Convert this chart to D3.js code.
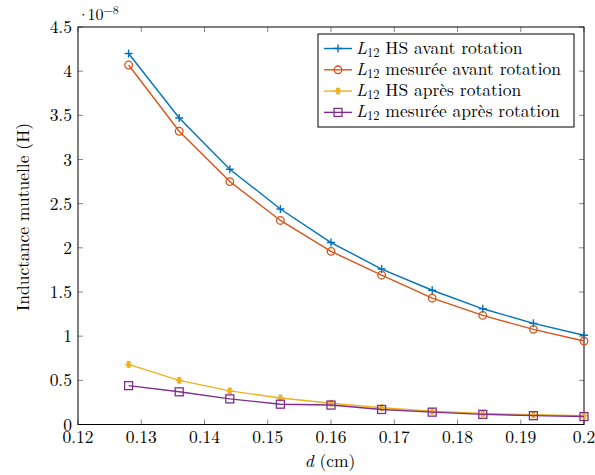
<!DOCTYPE html>
<html><head><meta charset="utf-8">
<script src="https://cdn.jsdelivr.net/npm/d3@7"></script>
<style>body{margin:0;background:#fff}svg{display:block}text{font-family:"Latin Modern Roman","CMU Serif","DejaVu Serif",serif;}</style>
</head><body>
<script>
const dValues = [0.128,0.136,0.144,0.152,0.160,0.168,0.176,0.184,0.192,0.200];
const hsAvant = [4.20,3.47,2.89,2.44,2.06,1.76,1.52,1.31,1.145,1.01];
const mesAvant = [4.07,3.32,2.75,2.31,1.96,1.69,1.43,1.235,1.077,0.945];
const hsApres = [0.68,0.50,0.38,0.30,0.24,0.19,0.15,0.125,0.11,0.10];
const mesApres = [0.44,0.37,0.29,0.23,0.22,0.17,0.14,0.115,0.10,0.09];
const xTicks = [0.12,0.13,0.14,0.15,0.16,0.17,0.18,0.19,0.2];
const yTicks = [0,0.5,1,1.5,2,2.5,3,3.5,4,4.5];
const seriesNames = ["HS avant rotation","mesurée avant rotation","HS après rotation","mesurée après rotation"];
const colors = ["#0072BD","#D95319","#EDB120","#7E2F8E"];
const markers = ["plus","circle","star","square"];
const series = [hsAvant,mesAvant,hsApres,mesApres];

const W=595,H=475, L=78, R=584, T=27, B=424.5;
const FS=17.5;
const svg = d3.select("body").append("svg").attr("width",W).attr("height",H);
const x = d3.scaleLinear().domain([0.12,0.2]).range([L,R]);
const y = d3.scaleLinear().domain([0,4.5]).range([B,T]);

const tl=5;
const g = svg.append("g");
xTicks.forEach(t=>{
  g.append("line").attr("x1",x(t)).attr("x2",x(t)).attr("y1",B).attr("y2",B-tl).attr("stroke","#888").attr("stroke-width",1);
  g.append("line").attr("x1",x(t)).attr("x2",x(t)).attr("y1",T).attr("y2",T+tl).attr("stroke","#888").attr("stroke-width",1);
  g.append("text").attr("x",x(t)).attr("y",B+18.5).attr("text-anchor","middle").attr("font-size",FS).text(d3.format("")(t));
});
yTicks.forEach(t=>{
  g.append("line").attr("x1",L).attr("x2",L+tl).attr("y1",y(t)).attr("y2",y(t)).attr("stroke","#888").attr("stroke-width",1);
  g.append("line").attr("x1",R).attr("x2",R-tl).attr("y1",y(t)).attr("y2",y(t)).attr("stroke","#888").attr("stroke-width",1);
  g.append("text").attr("x",L-6).attr("y",y(t)+6).attr("text-anchor","end").attr("font-size",FS).text(t);
});
svg.append("rect").attr("x",L).attr("y",T).attr("width",R-L).attr("height",B-T).attr("fill","none").attr("stroke","#000").attr("stroke-width",1);

const ex = svg.append("text").attr("x",77).attr("y",20).attr("font-size",16);
ex.append("tspan").text("·");
ex.append("tspan").attr("dx",-2).text("10");
ex.append("tspan").attr("dy",-6.5).attr("font-size",12).text("−8");

svg.append("text").attr("x",330).attr("y",467).attr("text-anchor","middle").attr("font-size",FS)
  .html('<tspan font-style="italic">d</tspan> (cm)');
svg.append("text").attr("transform","translate(29,217) rotate(-90)").attr("text-anchor","middle").attr("font-size",FS)
  .text("Inductance mutuelle (H)");

function drawMarker(sel,type,cx,cy,color){
  if(type==="plus"){
    sel.append("path").attr("d",`M${cx-4},${cy}H${cx+4}M${cx},${cy-4}V${cy+4}`).attr("stroke",color).attr("stroke-width",1.4);
  } else if(type==="circle"){
    sel.append("circle").attr("cx",cx).attr("cy",cy).attr("r",3.8).attr("fill","none").attr("stroke",color).attr("stroke-width",1.3);
  } else if(type==="star"){
    let d="";
    for(let i=0;i<3;i++){const a=i*Math.PI/3; d+=`M${cx-3.5*Math.cos(a)},${cy-3.5*Math.sin(a)}L${cx+3.5*Math.cos(a)},${cy+3.5*Math.sin(a)}`;}
    d+=`M${cx},${cy-3.5}V${cy+3.5}`;
    sel.append("path").attr("d",d).attr("stroke",color).attr("stroke-width",1.6);
  } else {
    sel.append("rect").attr("x",cx-4).attr("y",cy-4).attr("width",8).attr("height",8).attr("fill","none").attr("stroke",color).attr("stroke-width",1.3);
  }
}

const line = d3.line().x((d,i)=>x(dValues[i])).y(d=>y(d));
series.forEach((s,k)=>{
  const gg = svg.append("g");
  gg.append("path").attr("d",line(s)).attr("fill","none").attr("stroke",colors[k]).attr("stroke-width",1.4);
  s.forEach((v,i)=>drawMarker(gg,markers[k],x(dValues[i]),y(v),colors[k]));
});

const lg = svg.append("g");
lg.append("rect").attr("x",318).attr("y",34).attr("width",256).attr("height",93).attr("fill","#fff").attr("stroke","#000").attr("stroke-width",1);
seriesNames.forEach((n,k)=>{
  const yy = 48.5 + k*21.3;
  lg.append("line").attr("x1",324).attr("x2",352).attr("y1",yy).attr("y2",yy).attr("stroke",colors[k]).attr("stroke-width",1.4);
  drawMarker(lg,markers[k],338,yy,colors[k]);
  const t = lg.append("text").attr("x",356).attr("y",yy+5).attr("font-size",FS);
  t.append("tspan").attr("font-style","italic").text("L");
  t.append("tspan").attr("dy",3).attr("font-size",12.5).text("12");
  t.append("tspan").attr("dy",-3).text(" "+n);
});
</script>
</body></html>
